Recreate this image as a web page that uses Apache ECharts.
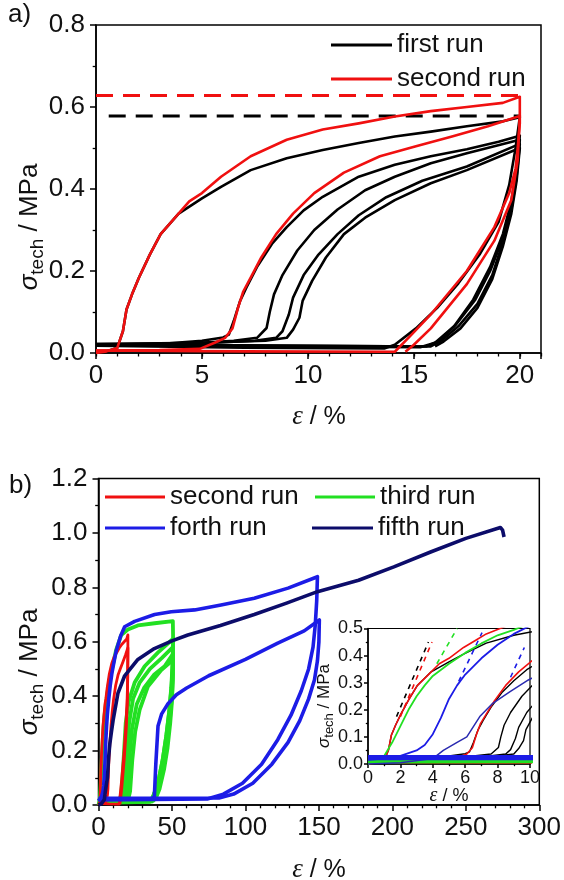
<!DOCTYPE html>
<html><head><meta charset="utf-8">
<script src="https://cdn.jsdelivr.net/npm/echarts@6/dist/echarts.min.js"></script>
<style>html,body{margin:0;padding:0;background:#fff}#c{width:564px;height:880px}</style>
</head><body><div id="c"></div>
<script>
// ---------- panel a: first run (black) ----------
const firstRunLoop1 = [[0,0],[0.5,0.004],[1.0,0.012],[1.27,0.053],[1.44,0.106],[1.7,0.143],[2.03,0.184],[2.54,0.24],[3.05,0.29],[3.9,0.34],[5.0,0.377],[5.9,0.405],[7.3,0.446],[9.0,0.475],[10.7,0.495],[12.4,0.512],[14.1,0.528],[15.8,0.54],[17.5,0.553],[19.2,0.565],[20,0.575],[19.8,0.5],[19.5,0.41],[19.0,0.32],[18.1,0.24],[17.1,0.17],[16.1,0.11],[15.1,0.06],[14.1,0.02],[13.6,0.011],[7,0.013],[0,0.018]];
const firstRunLoop2 = [[0,0.018],[3,0.022],[5,0.03],[6.0,0.038],[6.27,0.045],[6.5,0.078],[6.8,0.127],[7.1,0.16],[7.6,0.21],[8.3,0.266],[9.0,0.307],[9.8,0.348],[10.7,0.381],[12.4,0.43],[14.1,0.459],[15.8,0.48],[17.5,0.497],[19.0,0.515],[20,0.53],[19.85,0.45],[19.6,0.37],[19.2,0.29],[18.6,0.21],[17.8,0.13],[16.9,0.065],[16.0,0.025],[15.3,0.014],[8,0.016],[0,0.02]];
const firstRunLoop3 = [[0,0.02],[4,0.022],[6.5,0.03],[7.6,0.037],[8.05,0.061],[8.2,0.1],[8.4,0.143],[8.8,0.19],[9.5,0.25],[10.3,0.3],[11.4,0.35],[12.7,0.397],[14.1,0.43],[15.8,0.463],[17.5,0.487],[20,0.52],[19.85,0.44],[19.6,0.36],[19.2,0.28],[18.6,0.2],[17.9,0.13],[17.0,0.07],[16.2,0.03],[15.6,0.016],[8,0.018],[0,0.021]];
const firstRunLoop4 = [[0,0.021],[5,0.024],[7.5,0.03],[8.5,0.037],[8.8,0.053],[9.1,0.094],[9.3,0.135],[9.8,0.19],[10.5,0.24],[11.4,0.29],[12.4,0.336],[13.7,0.38],[15.4,0.42],[17.5,0.455],[20,0.51],[19.85,0.43],[19.6,0.35],[19.2,0.27],[18.7,0.19],[18.0,0.12],[17.1,0.065],[16.3,0.03],[15.8,0.016],[8,0.018],[0,0.022]];
const firstRunLoop5 = [[0,0.022],[5,0.025],[8,0.03],[9,0.037],[9.3,0.057],[9.6,0.086],[9.75,0.127],[10.2,0.176],[10.85,0.233],[11.7,0.29],[12.7,0.33],[14.1,0.373],[15.8,0.414],[17.5,0.446],[20,0.5],[19.85,0.42],[19.6,0.34],[19.2,0.26],[18.7,0.18],[18.0,0.11],[17.2,0.06],[16.4,0.028],[16.0,0.016]];
// ---------- second run (red) ----------
const secondRunLoop1 = [[0,0],[0.5,0.004],[1.0,0.012],[1.27,0.053],[1.44,0.106],[1.7,0.143],[2.03,0.184],[2.54,0.24],[3.05,0.29],[3.73,0.33],[4.4,0.37],[5.0,0.39],[5.9,0.43],[6.6,0.455],[7.3,0.48],[9.0,0.52],[10.7,0.545],[12.4,0.56],[14.1,0.577],[15.8,0.59],[17.5,0.6],[19.2,0.61],[20,0.625],[20,0.56],[19.9,0.5],[19.8,0.45],[19.5,0.39],[18.8,0.307],[17.5,0.2],[15.8,0.094],[14.8,0.04],[14.1,0.003],[7,0.004],[0,0.006]];
const secondRunLoop2 = [[0,0.006],[3,0.007],[4.9,0.01],[5.6,0.025],[6.1,0.037],[6.44,0.06],[6.7,0.11],[6.95,0.15],[7.3,0.184],[7.8,0.233],[8.5,0.29],[9.3,0.34],[10.3,0.39],[11.7,0.44],[13.4,0.48],[15.1,0.504],[16.8,0.528],[18.5,0.553],[20,0.578],[19.9,0.47],[19.6,0.373],[18.8,0.274],[17.5,0.168],[15.8,0.06],[15.0,0.02],[14.6,0.003]];
// maximum-stress reference lines
const secondRunPeak = [[0,0.628],[20,0.628]];
const firstRunPeak = [[0.6,0.578],[20,0.578]];
// ---------- panel b: third run (green) ----------
const thirdRunLoop1 = [[0,0],[0.6,0.012],[1.0,0.03],[1.5,0.08],[2,0.14],[2.5,0.2],[3,0.25],[3.5,0.29],[4,0.325],[5,0.37],[6,0.41],[7,0.445],[8,0.475],[9,0.495],[12,0.57],[15.5,0.625],[20,0.645],[26.8,0.66],[38.2,0.668],[50.6,0.676],[50.8,0.6],[50.4,0.52],[49.5,0.43],[48,0.34],[46,0.25],[43.5,0.16],[40.5,0.08],[37,0.03],[35,0.012],[0,0.008]];
const thirdRunLoop2 = [[0,0.008],[14,0.01],[15.5,0.04],[17,0.16],[18.5,0.3],[20.5,0.38],[24.6,0.45],[31.4,0.51],[40.4,0.56],[50.6,0.61],[50.6,0.53],[49.8,0.44],[48.3,0.35],[46.3,0.26],[43.8,0.17],[40.8,0.09],[37.5,0.035],[35.5,0.014],[0,0.01]];
const thirdRunLoop3 = [[0,0.01],[16,0.012],[17.5,0.05],[19.2,0.17],[20.8,0.3],[23.5,0.39],[28,0.45],[35,0.5],[43,0.54],[50.6,0.58],[50.6,0.5],[49.9,0.42],[48.5,0.33],[46.5,0.24],[44,0.15],[41,0.08],[38,0.03],[36,0.013],[0,0.011]];
const thirdRunLoop4 = [[0,0.011],[18,0.013],[19.5,0.05],[21,0.17],[22.8,0.28],[26,0.37],[31,0.43],[38,0.48],[45,0.51],[50.6,0.555],[50.6,0.48],[50,0.4],[48.7,0.32],[46.8,0.23],[44.3,0.14],[41.3,0.07],[38.5,0.03],[36.5,0.013],[0,0.012]];
const thirdRunLoop5 = [[0,0.012],[20,0.014],[21.5,0.05],[23,0.165],[25,0.27],[28,0.35],[33.6,0.435],[42.7,0.496],[50.6,0.533],[50.6,0.46],[50,0.38],[48.8,0.3],[47,0.21],[44.6,0.13],[41.6,0.06],[39,0.025],[37,0.014]];
// ---------- forth run (blue) ----------
const forthRunLoop1 = [[0,0.015],[1,0.02],[2,0.03],[3,0.05],[3.5,0.07],[4,0.11],[4.5,0.17],[5,0.24],[5.5,0.29],[6,0.33],[7,0.39],[8,0.44],[9,0.48],[10,0.51],[12,0.565],[15,0.62],[17.8,0.655],[24.6,0.675],[38.2,0.70],[49.5,0.71],[65.4,0.717],[83.4,0.735],[106,0.76],[129,0.797],[149,0.839],[148.5,0.75],[147.5,0.66],[146,0.58],[143,0.5],[138,0.42],[131,0.33],[122,0.24],[111,0.15],[98,0.08],[85,0.04],[74,0.022],[0,0.019]];
const forthRunLoop2 = [[0,0.022],[36,0.024],[38,0.03],[39,0.15],[40.5,0.29],[43,0.335],[47,0.37],[53,0.405],[60,0.43],[75,0.475],[100,0.535],[122,0.595],[140,0.64],[150.3,0.68],[150,0.6],[149,0.53],[147,0.46],[143,0.39],[137,0.31],[129,0.23],[118,0.15],[105,0.08],[92,0.04],[82,0.026],[0,0.025]];
// ---------- fifth run (navy) ----------
const fifthRun = [[0,0],[2,0.005],[4,0.02],[4.65,0.05],[5.5,0.08],[6.1,0.1],[6.9,0.175],[7.7,0.224],[8.77,0.267],[9.9,0.31],[13.2,0.41],[17.8,0.475],[26.8,0.535],[38,0.575],[50,0.603],[60.8,0.625],[83,0.66],[106,0.70],[128,0.742],[149,0.784],[177,0.826],[201,0.875],[226,0.93],[250,0.98],[273.5,1.02],[275,1.01],[276,0.985]];
// ---------- inset slope (tangent) lines ----------
const slopeFirst = [[1.76,0.175],[3.73,0.45]];
const slopeSecond = [[2.0,0.175],[3.95,0.45]];
const slopeThird = [[4.25,0.37],[5.5,0.5]];
const slopeForth = [[5.6,0.305],[7.04,0.485]];
const slopeForthB = [[8.8,0.32],[9.65,0.43]];
// ---------- axis ticks ----------
const xTicksA = [0,5,10,15,20];
const yTicksA = [0.0,0.2,0.4,0.6,0.8];
const xTicksB = [0,50,100,150,200,250,300];
const yTicksB = [0.0,0.2,0.4,0.6,0.8,1.0,1.2];
const xTicksInset = [0,2,4,6,8,10];
const yTicksInset = [0.0,0.1,0.2,0.3,0.4,0.5];

const FONT = "'Liberation Sans', Arial, sans-serif";
const BLACK = '#000000', RED = '#f01010', GREEN = '#22e022', BLUE = '#1c1ce6', NAVY = '#0c0c6a';

function curve(name, data, color, width, ax, dash) {
  return {type:'line', name:name, data:data, xAxisIndex:ax[0], yAxisIndex:ax[1],
    symbol:'none', showSymbol:false, silent:true, animation:false, clip:true,
    lineStyle:{color:color, width:width, type:dash || 'solid', cap:'butt', join:'round'},
    itemStyle:{color:color}};
}
function xAxisDef(grid, ticks, fontSize, margin, tickLen, minorSplit, extraMax) {
  const step = ticks[1]-ticks[0];
  return {type:'value', gridIndex:grid, position:'bottom', min:ticks[0], max: extraMax || ticks[ticks.length-1], interval:step,
    axisLine:{show:true, onZero:false, lineStyle:{color:'#000', width:1.5}},
    axisTick:{show:true, inside:false, length:tickLen, lineStyle:{color:'#000', width:1.5}},
    minorTick:{show: !!minorSplit, splitNumber: minorSplit || 5, length: tickLen*0.55, lineStyle:{color:'#000', width:1.3}},
    splitLine:{show:false},
    axisLabel:{fontSize:fontSize, fontFamily:FONT, color:'#111', margin:margin,
      formatter: v => (ticks.indexOf(v) >= 0 ? String(v) : '')}};
}
function yAxisDef(grid, ticks, fontSize, margin, tickLen, minorSplit) {
  const step = +(ticks[1]-ticks[0]).toFixed(3);
  return {type:'value', gridIndex:grid, min:ticks[0], max:ticks[ticks.length-1], interval:step,
    axisLine:{show:true, onZero:false, lineStyle:{color:'#000', width:1.5}},
    axisTick:{show:true, inside:false, length:tickLen, lineStyle:{color:'#000', width:1.5}},
    minorTick:{show:true, splitNumber:minorSplit, length:tickLen*0.55, lineStyle:{color:'#000', width:1.3}},
    splitLine:{show:false},
    axisLabel:{fontSize:fontSize, fontFamily:FONT, color:'#111', margin:margin,
      formatter: v => v.toFixed(1)}};
}

const A = [0,0], B = [2,1], I = [3,2];
const series = [];
// panel a
[firstRunLoop1, firstRunLoop2, firstRunLoop3, firstRunLoop4, firstRunLoop5].forEach(d => series.push(curve('first run', d, BLACK, 2.6, A)));
series.push(curve('first run max', firstRunPeak, BLACK, 3, A, [17,10]));
[secondRunLoop1, secondRunLoop2].forEach(d => series.push(curve('second run', d, RED, 2.6, A)));
series.push(curve('second run max', secondRunPeak, RED, 3, A, [17,10]));
// panel b
[thirdRunLoop1, thirdRunLoop2, thirdRunLoop3, thirdRunLoop4, thirdRunLoop5].forEach(d => series.push(curve('third run', d, GREEN, 3.8, B)));
[secondRunLoop1, secondRunLoop2].forEach(d => series.push(curve('second run', d, RED, 2.8, B)));
[forthRunLoop1, forthRunLoop2].forEach(d => series.push(curve('forth run', d, BLUE, 3.6, B)));
series.push(curve('fifth run', fifthRun, NAVY, 3.6, B));
// inset
[firstRunLoop1, firstRunLoop2, firstRunLoop3, firstRunLoop4, firstRunLoop5].forEach(d => series.push(curve('first run', d, BLACK, 1.4, I)));
[secondRunLoop1, secondRunLoop2].forEach(d => series.push(curve('second run', d, RED, 1.6, I)));
series.push(curve('third run', thirdRunLoop1, GREEN, 1.8, I));
[thirdRunLoop2, thirdRunLoop3, thirdRunLoop4, thirdRunLoop5].forEach(d => series.push(curve('third run', d, GREEN, 3.5, I)));
series.push(curve('fifth run', fifthRun, '#2a2ab0', 1.5, I));
series.push(curve('forth run', forthRunLoop1, BLUE, 1.8, I));
series.push(curve('forth run', forthRunLoop2, BLUE, 4.5, I));
series.push(curve('slope first', slopeFirst, BLACK, 1.6, I, [5,5]));
series.push(curve('slope second', slopeSecond, RED, 1.6, I, [5,5]));
series.push(curve('slope third', slopeThird, GREEN, 1.6, I, [5,5]));
series.push(curve('slope forth', slopeForth, BLUE, 1.6, I, [5,5]));
series.push(curve('slope forth b', slopeForthB, BLUE, 1.6, I, [5,5]));

const legendText = {fontSize:26, fontFamily:FONT, color:'#111', lineHeight:30};
function legendDef(names, left, top, w) {
  return {data:names, orient:'vertical', left:left, top:top, padding:0, itemWidth:w, itemHeight:3,
    itemGap:4, icon:'rect', selectedMode:false, textStyle:legendText};
}

function yLabel(x, y, fs, sfs, shift) {
  return {type:'text', x:x, y:y, rotation:Math.PI/2, silent:true,
    style:{text:'{s|σ}{t|tech}{m| / MPa}', textAlign:'center', textVerticalAlign:'middle', fill:'#111',
      rich:{
        s:{fontSize:fs, fontFamily:FONT, fontStyle:'italic', fill:'#111'},
        t:{fontSize:sfs, fontFamily:FONT, fill:'#111', padding:[shift,0,0,0]},
        m:{fontSize:fs, fontFamily:FONT, fill:'#111'}
      }}};
}
function xLabel(x, y, fs) {
  return {type:'text', x:x, y:y, silent:true,
    style:{text:'{e|ε}{m| / %}', textAlign:'center', textVerticalAlign:'middle', fill:'#111',
      rich:{
        e:{fontSize:fs+2, fontFamily:"'Liberation Serif', serif", fontStyle:'italic', fill:'#111'},
        m:{fontSize:fs, fontFamily:FONT, fill:'#111'}
      }}};
}

const option = {
  animation:false,
  backgroundColor:'#fff',
  grid:[
    {left:96, top:25, width:445, height:328, show:true, borderColor:'#000', borderWidth:1.5, backgroundColor:'transparent'},
    {left:98.5, top:478.5, width:441.5, height:326.5, show:true, borderColor:'#000', borderWidth:1.5, backgroundColor:'transparent'},
    {left:368, top:628.5, width:162, height:135.5, show:true, borderColor:'#000', borderWidth:1.2, backgroundColor:'#fff'}
  ],
  xAxis:[
    xAxisDef(0, xTicksA, 26, 10, 6, 0, 21),
    {type:'value', gridIndex:0, position:'bottom', min:0, max:21, interval:1,
      axisLine:{show:false}, axisLabel:{show:false}, splitLine:{show:false},
      axisTick:{show:true, inside:false, length:3.5, lineStyle:{color:'#000', width:1.3}}},
    xAxisDef(1, xTicksB, 26, 10, 6, 5),
    xAxisDef(2, xTicksInset, 18, 5, 4, 2)
  ],
  yAxis:[
    yAxisDef(0, yTicksA, 26, 11, 6, 2),
    yAxisDef(1, yTicksB, 26, 11, 6, 2),
    yAxisDef(2, yTicksInset, 18, 5, 4, 2)
  ],
  legend:[
    legendDef(['first run','second run'], 331, 30, 61),
    legendDef(['second run'], 105, 482, 60),
    legendDef(['third run'], 315, 482, 60),
    legendDef(['forth run'], 105, 513, 60),
    legendDef(['fifth run'], 312, 513, 61)
  ],
  graphic:[
    {type:'text', x:8, y:15, silent:true, style:{text:'a)', fontSize:26, fontFamily:FONT, fill:'#111', textVerticalAlign:'middle'}},
    {type:'text', x:9, y:486, silent:true, style:{text:'b)', fontSize:26, fontFamily:FONT, fill:'#111', textVerticalAlign:'middle'}},
    yLabel(30, 227, 26, 19, 16),
    yLabel(30, 672, 26, 19, 16),
    yLabel(324, 706, 17, 13, 10),
    xLabel(319, 417, 25),
    xLabel(319, 870, 25),
    xLabel(449, 796, 18)
  ],
  series:series
};
const chart = echarts.init(document.getElementById('c'), null, {renderer:'canvas'});
chart.setOption(option);
</script></body></html>
